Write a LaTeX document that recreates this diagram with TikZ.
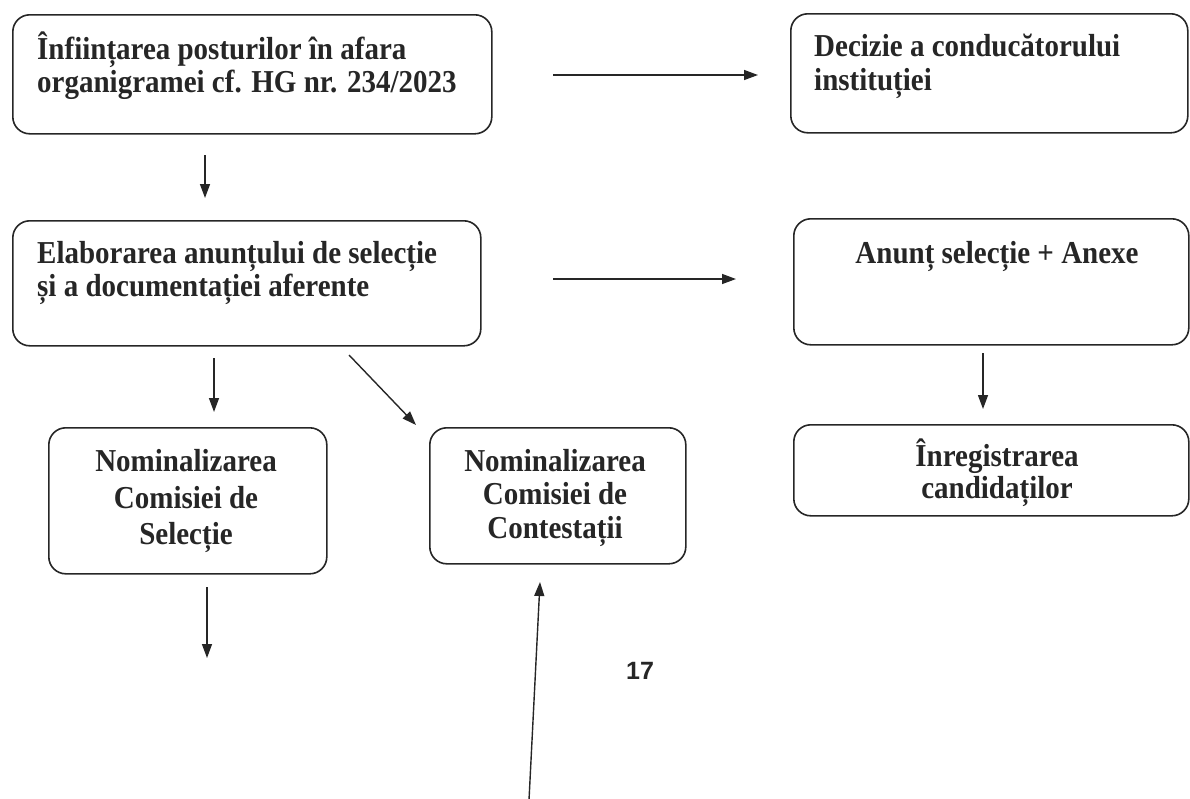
\documentclass[tikz,border=0pt]{standalone}
\usepackage{fontspec}
\usepackage{graphicx}
\setmainfont{Liberation Serif}
\newfontfamily\numfont{Liberation Sans}
\usetikzlibrary{arrows.meta}
\definecolor{ink}{HTML}{262626}
\newcommand{\tall}[1]{\scalebox{1}[1.1]{#1}}
\begin{document}
\begin{tikzpicture}[x=1pt,y=-1pt,
  box/.style={draw=ink, line width=1.6pt, rounded corners=17pt, inner sep=0pt, anchor=north west},
  lbl/.style={font=\fontsize{29}{34}\selectfont\bfseries, text=ink, inner sep=0pt},
  arr/.style={draw=ink, line width=1.4pt, -{Triangle[length=14pt,width=10pt]}}]
\useasboundingbox (0,0) rectangle (1190,798);
\clip (0,0) rectangle (1190,798);
% boxes
\node[box, minimum width=479pt, minimum height=119pt] (b1) at (12,14) {};
\node[box, minimum width=397pt, minimum height=119pt] (b2) at (790,13) {};
\node[box, minimum width=468pt, minimum height=125pt] (b3) at (12,220) {};
\node[box, minimum width=395pt, minimum height=126pt] (b4) at (793,218) {};
\node[box, minimum width=278pt, minimum height=146pt] (b5) at (48,427) {};
\node[box, minimum width=256pt, minimum height=136pt] (b6) at (429,427) {};
\node[box, minimum width=395pt, minimum height=91pt] (b7) at (793,424) {};
% texts
\node[lbl, anchor=base west] (t1a) at (37,59) {\tall{Înființarea posturilor în afara}};
\node[lbl, anchor=base west] (t1b) at (37,92) {\tall{organigramei cf. HG nr. 234/2023}};
\node[lbl, anchor=base west] (t2a) at (814,56) {\tall{Decizie a conducătorului}};
\node[lbl, anchor=base west] (t2b) at (814,90) {\tall{instituției}};
\node[lbl, anchor=base west] (t3a) at (37,263) {\tall{Elaborarea anunțului de selecție}};
\node[lbl, anchor=base west] (t3b) at (37,296) {\tall{și a documentației aferente}};
\node[lbl, anchor=base] (t4) at (997,263) {\tall{Anunț selecție + Anexe}};
\node[lbl, anchor=base] (t5a) at (186,471) {\tall{Nominalizarea}};
\node[lbl, anchor=base] (t5b) at (186,508) {\tall{Comisiei de}};
\node[lbl, anchor=base] (t5c) at (186,544) {\tall{Selecție}};
\node[lbl, anchor=base] (t6a) at (555,471) {\tall{Nominalizarea}};
\node[lbl, anchor=base] (t6b) at (555,504) {\tall{Comisiei de}};
\node[lbl, anchor=base] (t6c) at (555,538) {\tall{Contestații}};
\node[lbl, anchor=base] (t7a) at (997,466) {\tall{Înregistrarea}};
\node[lbl, anchor=base] (t7b) at (997,498) {\tall{candidaților}};
\node[font=\numfont\bfseries\fontsize{25}{28}\selectfont, text=ink, inner sep=0pt] (pg) at (640,671) {17};
% arrow endpoints
\coordinate (a1s) at (553,75);   \coordinate (a1e) at (758,75);
\coordinate (a2s) at (205,155);  \coordinate (a2e) at (205,198);
\coordinate (a3s) at (553,279);  \coordinate (a3e) at (736,279);
\coordinate (a4s) at (214,358);  \coordinate (a4e) at (214,412);
\coordinate (a5s) at (349,355);  \coordinate (a5e) at (416,425);
\coordinate (a6s) at (983,353);  \coordinate (a6e) at (983,409);
\coordinate (a7s) at (207,587);  \coordinate (a7e) at (207,658);
\coordinate (a8s) at (529,800);  \coordinate (a8e) at (540,582);
\draw[arr] (a1s) -- (a1e);
\draw[arr] (a2s) -- (a2e);
\draw[arr] (a3s) -- (a3e);
\draw[arr] (a4s) -- (a4e);
\draw[arr] (a5s) -- (a5e);
\draw[arr] (a6s) -- (a6e);
\draw[arr] (a7s) -- (a7e);
\draw[arr] (a8s) -- (a8e);
\end{tikzpicture}
\end{document}
